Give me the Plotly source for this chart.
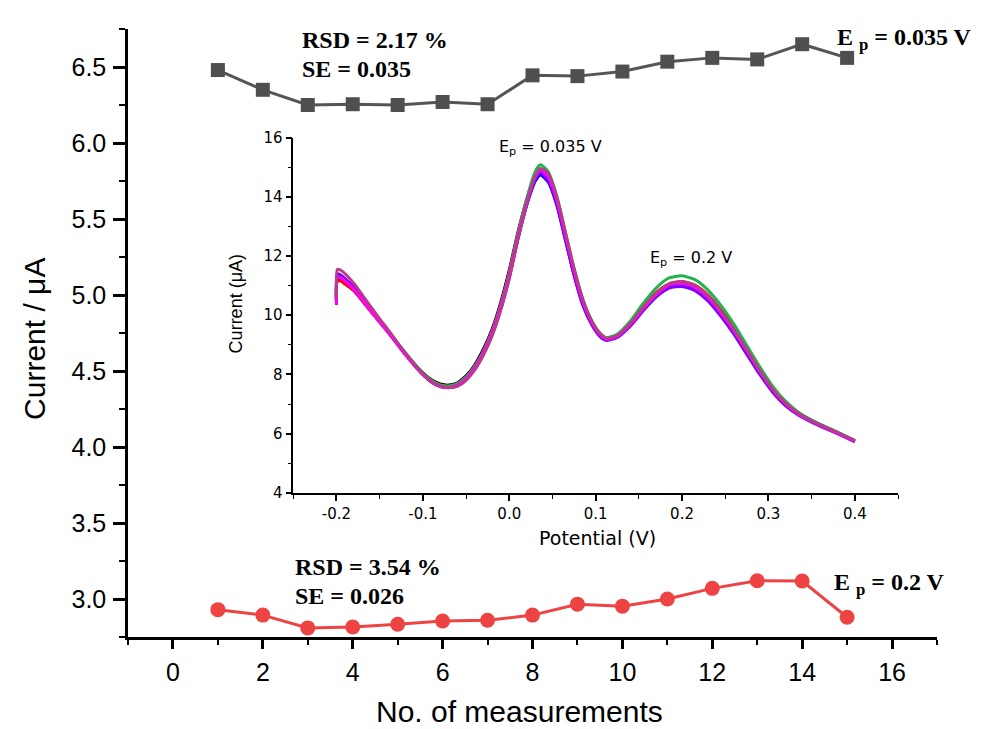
import plotly.graph_objects as go

# ---------------- main chart data ----------------
measurements = list(range(1, 16))
current_ep_0035 = [6.48, 6.35, 6.25, 6.255, 6.25, 6.27, 6.255, 6.445, 6.44, 6.47, 6.535, 6.56, 6.55, 6.65, 6.56]
current_ep_02 = [2.93, 2.894, 2.81, 2.816, 2.834, 2.855, 2.86, 2.894, 2.966, 2.953, 3.0, 3.07, 3.12, 3.118, 2.88]

x_ticks_main = [0, 2, 4, 6, 8, 10, 12, 14, 16]
y_ticks_main = [3.0, 3.5, 4.0, 4.5, 5.0, 5.5, 6.0, 6.5]

# ---------------- inset (DPV curves) data ----------------
potential = [-0.2, -0.199, -0.195, -0.19, -0.18, -0.17, -0.16, -0.15, -0.14, -0.13, -0.12, -0.11, -0.10,
             -0.09, -0.08, -0.07, -0.06, -0.05, -0.04, -0.03, -0.02, -0.01, 0.0, 0.01, 0.02, 0.03, 0.036,
             0.045, 0.055, 0.065, 0.075, 0.085, 0.095, 0.105, 0.113, 0.125, 0.14, 0.155, 0.17, 0.185, 0.2,
             0.215, 0.23, 0.245, 0.26, 0.275, 0.29, 0.305, 0.32, 0.335, 0.35, 0.365, 0.38, 0.39, 0.4]

curve_black = [10.5, 11.2, 11.2, 11.1, 10.85, 10.5, 10.13, 9.78, 9.43, 9.06, 8.7, 8.36, 8.05, 7.82, 7.68, 7.64, 7.72, 7.95, 8.32, 8.85, 9.52, 10.42, 11.52, 12.8, 13.88, 14.7, 14.88, 14.62, 13.82, 12.6, 11.4, 10.42, 9.76, 9.35, 9.2, 9.3, 9.7, 10.25, 10.72, 11.02, 11.1, 10.98, 10.66, 10.16, 9.58, 8.9, 8.2, 7.56, 7.06, 6.7, 6.45, 6.24, 6.04, 5.9, 5.76]
curve_red = [10.45, 11.15, 11.15, 11.05, 10.83, 10.48, 10.12, 9.77, 9.42, 9.05, 8.69, 8.35, 8.03, 7.79, 7.64, 7.6, 7.68, 7.9, 8.26, 8.78, 9.44, 10.33, 11.43, 12.73, 13.85, 14.72, 14.95, 14.7, 13.9, 12.68, 11.48, 10.48, 9.8, 9.37, 9.22, 9.32, 9.72, 10.27, 10.76, 11.06, 11.14, 11.02, 10.68, 10.16, 9.55, 8.86, 8.15, 7.52, 7.03, 6.68, 6.43, 6.22, 6.03, 5.89, 5.75]
curve_blue = [10.4, 11.35, 11.32, 11.2, 10.92, 10.55, 10.16, 9.8, 9.44, 9.06, 8.68, 8.33, 8.01, 7.76, 7.61, 7.57, 7.64, 7.86, 8.22, 8.73, 9.38, 10.25, 11.33, 12.6, 13.7, 14.52, 14.74, 14.5, 13.72, 12.55, 11.38, 10.4, 9.74, 9.32, 9.18, 9.27, 9.65, 10.17, 10.63, 10.93, 10.99, 10.86, 10.53, 10.03, 9.44, 8.77, 8.08, 7.46, 6.98, 6.65, 6.41, 6.21, 6.02, 5.88, 5.74]
curve_olive = [10.4, 11.3, 11.28, 11.17, 10.9, 10.53, 10.15, 9.79, 9.44, 9.06, 8.69, 8.34, 8.02, 7.78, 7.63, 7.59, 7.67, 7.89, 8.25, 8.76, 9.42, 10.3, 11.4, 12.7, 13.82, 14.66, 14.86, 14.64, 13.86, 12.66, 11.45, 10.45, 9.78, 9.35, 9.2, 9.3, 9.7, 10.24, 10.72, 11.03, 11.08, 10.95, 10.62, 10.11, 9.52, 8.84, 8.14, 7.52, 7.03, 6.68, 6.43, 6.22, 6.03, 5.89, 5.75]
curve_green = [10.5, 11.3, 11.3, 11.2, 10.93, 10.56, 10.18, 9.82, 9.47, 9.09, 8.72, 8.37, 8.05, 7.8, 7.65, 7.61, 7.69, 7.91, 8.27, 8.78, 9.44, 10.32, 11.42, 12.75, 13.92, 14.85, 15.08, 14.85, 14.02, 12.8, 11.58, 10.55, 9.84, 9.4, 9.24, 9.36, 9.8, 10.4, 10.92, 11.26, 11.33, 11.2, 10.85, 10.33, 9.7, 8.98, 8.26, 7.6, 7.09, 6.72, 6.46, 6.25, 6.05, 5.91, 5.77]
curve_purple = [10.35, 11.4, 11.36, 11.24, 10.95, 10.57, 10.17, 9.8, 9.43, 9.04, 8.66, 8.31, 7.99, 7.74, 7.59, 7.55, 7.62, 7.83, 8.18, 8.68, 9.32, 10.18, 11.25, 12.55, 13.7, 14.58, 14.8, 14.55, 13.75, 12.55, 11.35, 10.35, 9.7, 9.28, 9.15, 9.25, 9.63, 10.15, 10.62, 10.92, 10.97, 10.83, 10.48, 9.96, 9.36, 8.68, 8.0, 7.4, 6.94, 6.62, 6.39, 6.19, 6.0, 5.87, 5.73]
curve_magenta = [10.35, 11.28, 11.26, 11.15, 10.88, 10.51, 10.13, 9.77, 9.41, 9.03, 8.66, 8.31, 8.0, 7.75, 7.6, 7.56, 7.64, 7.86, 8.22, 8.74, 9.4, 10.28, 11.36, 12.66, 13.8, 14.68, 14.9, 14.68, 13.9, 12.7, 11.5, 10.48, 9.79, 9.35, 9.19, 9.29, 9.68, 10.22, 10.7, 11.02, 11.08, 10.94, 10.6, 10.08, 9.48, 8.8, 8.1, 7.48, 7.0, 6.66, 6.42, 6.21, 6.02, 5.88, 5.74]
curve_wine = [10.6, 11.55, 11.52, 11.4, 11.08, 10.68, 10.27, 9.88, 9.5, 9.1, 8.72, 8.35, 8.02, 7.76, 7.6, 7.56, 7.6, 7.8, 8.15, 8.65, 9.3, 10.17, 11.25, 12.58, 13.75, 14.7, 14.95, 14.8, 14.0, 12.8, 11.58, 10.55, 9.83, 9.38, 9.22, 9.32, 9.72, 10.27, 10.75, 11.06, 11.14, 11.01, 10.66, 10.14, 9.53, 8.84, 8.13, 7.5, 7.02, 6.68, 6.43, 6.23, 6.04, 5.9, 5.77]

inset_x_ticks = [-0.2, -0.1, 0.0, 0.1, 0.2, 0.3, 0.4]
inset_x_ticklabels = ["-0.2", "-0.1", "0.0", "0.1", "0.2", "0.3", "0.4"]
inset_y_ticks = [4, 6, 8, 10, 12, 14, 16]

curves = [
    (curve_black, "#000000"),
    (curve_red, "#FF0000"),
    (curve_blue, "#0000FF"),
    (curve_olive, "#808000"),
    (curve_green, "#22B34A"),
    (curve_purple, "#8000FF"),
    (curve_magenta, "#FF00FF"),
    (curve_wine, "#BC3A8E"),
]
for c, _ in curves:
    assert len(c) == len(potential), len(c)

# ---------------- figure ----------------
W, H = 995, 729
OFF = 8  # page body margin
L, R, T, B = 128, 58, 21, 92   # plot-area edges in screenshot pixels
PW, PH = W - L - R, H - T - B


def px(x):
    return (x - L) / PW


def py(y):
    return (H - B - y) / PH


fig = go.Figure()

fig.add_trace(go.Scatter(
    x=measurements, y=current_ep_0035, mode="lines+markers",
    line=dict(color="#555555", width=3),
    marker=dict(symbol="square", size=14, color="#4F4F4F"),
    xaxis="x", yaxis="y", showlegend=False))
fig.add_trace(go.Scatter(
    x=measurements, y=current_ep_02, mode="lines+markers",
    line=dict(color="#EE4343", width=3),
    marker=dict(symbol="circle", size=15, color="#EE4343"),
    xaxis="x", yaxis="y", showlegend=False))

for c, col in curves:
    fig.add_trace(go.Scatter(
        x=potential, y=c, mode="lines",
        line=dict(color=col, width=3, shape="spline", smoothing=0.6),
        xaxis="x2", yaxis="y2", showlegend=False))

ARIAL = "Liberation Sans, Arial, sans-serif"
DV = "DejaVu Sans, sans-serif"

fig.update_layout(
    width=W, height=H,
    margin=dict(l=L - OFF, r=R + OFF, t=T - OFF, b=B + OFF),
    paper_bgcolor="white", plot_bgcolor="white",
    xaxis=dict(
        domain=[0, 1], range=[-1, 17], tickvals=x_ticks_main,
        showline=True, linecolor="black", linewidth=2.5, showgrid=False, zeroline=False,
        ticks="outside", ticklen=9, tickwidth=2.5, tickcolor="black",
        minor=dict(dtick=1, tick0=0, ticks="outside", ticklen=5, tickwidth=2, tickcolor="black"),
        tickfont=dict(family=ARIAL, size=25, color="black"),
        ticklabelstandoff=2,
    ),
    yaxis=dict(
        domain=[0, 1], range=[2.75, 6.75], tickvals=y_ticks_main, tickformat=".1f",
        showline=True, linecolor="black", linewidth=2.5, showgrid=False, zeroline=False,
        ticks="outside", ticklen=12, tickwidth=2.5, tickcolor="black",
        minor=dict(dtick=0.25, tick0=0, ticks="outside", ticklen=6, tickwidth=2, tickcolor="black"),
        tickfont=dict(family=ARIAL, size=25, color="black"),
        ticklabelstandoff=2,
    ),
    xaxis2=dict(
        domain=[px(293.3), px(898)], anchor="y2", range=[-0.25, 0.45],
        tickvals=inset_x_ticks, ticktext=inset_x_ticklabels,
        showline=True, linecolor="black", linewidth=1.5, showgrid=False, zeroline=False,
        ticks="outside", ticklen=6, tickwidth=1.5, tickcolor="black",
        minor=dict(dtick=0.05, tick0=0, ticks="outside", ticklen=4, tickwidth=1.2, tickcolor="black"),
        tickfont=dict(family=DV, size=15, color="black"),
    ),
    yaxis2=dict(
        domain=[py(491), py(131)], anchor="x2", range=[4, 16], tickvals=inset_y_ticks,
        showline=True, linecolor="black", linewidth=1.5, showgrid=False, zeroline=False,
        ticks="outside", ticklen=6, tickwidth=1.5, tickcolor="black",
        minor=dict(dtick=1, tick0=0, ticks="outside", ticklen=4, tickwidth=1.2, tickcolor="black"),
        tickfont=dict(family=DV, size=15, color="black"),
    ),
)

ann = []


def add_text(text, x, y, font, xanchor="center", angle=0):
    ann.append(dict(x=px(x), y=py(y), xref="paper", yref="paper", text=text, textangle=angle,
                    xanchor=xanchor, yanchor="middle", showarrow=False, font=font))


# axis titles
add_text("Current / μA", 35, 335, dict(family=ARIAL, size=30, color="black"), angle=-90)
add_text("No. of measurements", 519, 712, dict(family=ARIAL, size=30, color="black"))
# inset titles
add_text("Current (μA)", 236, 300, dict(family=ARIAL, size=18, color="black"), angle=-90)
add_text("Potential (V)", 597, 537, dict(family=DV, size=19, color="black"))
# inset peak labels
add_text("E<sub>p</sub> = 0.035 V", 497, 141, dict(family=DV, size=16, color="black"), xanchor="left")
add_text("E<sub>p</sub> = 0.2 V", 648, 254, dict(family=DV, size=16, color="black"), xanchor="left")
# bold serif statistics labels
BF = dict(family="Liberation Serif, Times New Roman, serif", size=24, color="black", weight="bold")
for txt, x0, y0 in [("RSD = 2.17 %", 300, 32), ("SE = 0.035", 300, 62),
                    ("E <sub>p</sub> = 0.035 V", 835, 31),
                    ("RSD = 3.54 %", 293, 566), ("SE = 0.026", 293, 595),
                    ("E <sub>p</sub> = 0.2 V", 832, 583)]:
    add_text(txt, x0, y0, BF, xanchor="left")

fig.update_layout(annotations=ann)
fig.write_html("out.html")
